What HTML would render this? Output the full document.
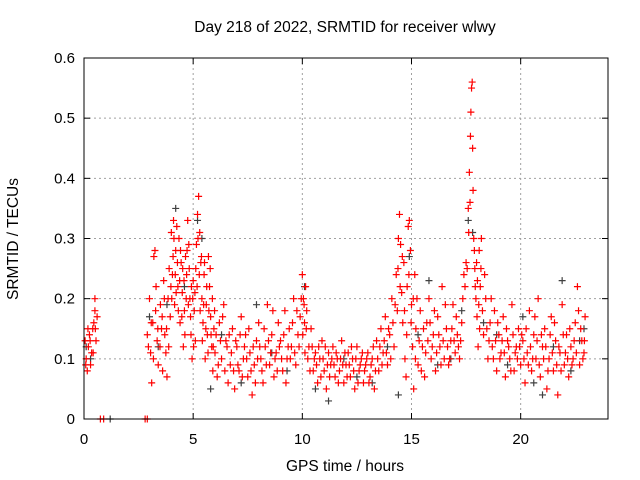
<!DOCTYPE html>
<html><head><meta charset="utf-8"><style>
body{margin:0;background:#fff}
svg{display:block;font-family:"Liberation Sans",sans-serif}
</style></head><body>
<svg id="chart" width="640" height="480" viewBox="0 0 640 480">
<rect width="640" height="480" fill="#fff"/>
<text x="345" y="32" font-size="15.5" text-anchor="middle">Day 218 of 2022, SRMTID for receiver wlwy</text>
<text x="345" y="471" font-size="15.5" text-anchor="middle">GPS time / hours</text>
<text transform="translate(18,239) rotate(-90)" font-size="15.5" text-anchor="middle">SRMTID / TECUs</text>
<g id="grid"></g>
<g id="ticks"></g>
<g id="gray"></g>
<g id="red"></g>
<rect x="84" y="58" width="524" height="361" fill="none" stroke="#000" stroke-width="1"/>
</svg>
<script>
const xTicks=[0,5,10,15,20];
const yTicks=[0,0.1,0.2,0.3,0.4,0.5,0.6];
const yTickLabels=["0","0.1","0.2","0.3","0.4","0.5","0.6"];
const grayPoints=[[0.1,0.12],[0.3,0.1],[1.2,0],[3.0,0.17],[3.4,0.12],[3.8,0.19],[4.2,0.35],[4.6,0.22],[5.2,0.33],[5.4,0.3],[5.8,0.05],[6.3,0.14],[7.2,0.06],[7.9,0.19],[8.6,0.11],[9.3,0.08],[10.1,0.22],[10.6,0.05],[11.2,0.03],[11.9,0.1],[12.5,0.07],[13.2,0.06],[13.9,0.12],[14.4,0.04],[14.9,0.27],[15.3,0.14],[15.8,0.23],[16.2,0.09],[16.8,0.1],[17.3,0.18],[17.6,0.33],[17.8,0.31],[18.3,0.16],[18.9,0.14],[19.4,0.09],[20.1,0.17],[20.6,0.06],[21.0,0.04],[21.5,0.12],[21.9,0.23],[22.3,0.08],[22.7,0.13],[22.9,0.15]];
const redPoints=[
[0.05,0.13],[0.1,0.1],[0.15,0.08],[0.2,0.12],[0.25,0.14],[0.3,0.09],[0.35,0.11],[0.4,0.15],[0.45,0.16],[0.5,0.18],[0.5,0.2],[0.55,0.13],[0.75,0],[0.9,0],[2.8,0],[2.9,0],
[2.9,0.14],[3.0,0.2],[3.05,0.11],[3.1,0.06],[3.15,0.16],[3.2,0.27],[3.25,0.28],[3.3,0.22],[3.35,0.13],[3.4,0.09],[3.5,0.19],[3.55,0.15],[3.6,0.08],[3.65,0.23],[3.7,0.14],[3.75,0.11],[3.8,0.07],[3.85,0.2],[3.9,0.25],[3.95,0.17],
[4.0,0.31],[4.05,0.24],[4.1,0.33],[4.15,0.19],[4.2,0.28],[4.25,0.32],[4.3,0.22],[4.35,0.3],[4.4,0.16],[4.45,0.26],[4.5,0.21],[4.55,0.12],[4.6,0.18],[4.65,0.27],[4.7,0.24],[4.75,0.33],[4.8,0.29],[4.85,0.2],[4.9,0.14],[4.95,0.1],
[5.0,0.23],[5.05,0.18],[5.1,0.13],[5.15,0.29],[5.2,0.34],[5.25,0.37],[5.3,0.31],[5.35,0.26],[5.4,0.2],[5.45,0.16],[5.5,0.24],[5.55,0.1],[5.6,0.19],[5.65,0.14],[5.7,0.27],[5.75,0.22],[5.8,0.17],[5.85,0.12],[5.9,0.08],[5.95,0.15],
[6.0,0.11],[6.1,0.07],[6.2,0.16],[6.3,0.1],[6.4,0.19],[6.5,0.13],[6.6,0.06],[6.7,0.09],[6.8,0.15],[6.9,0.05],[7.0,0.12],[7.1,0.08],[7.2,0.17],[7.3,0.1],[7.4,0.14],[7.5,0.07],[7.6,0.11],[7.7,0.04],[7.8,0.09],[7.9,0.13],
[8.0,0.16],[8.1,0.1],[8.2,0.06],[8.3,0.12],[8.4,0.19],[8.5,0.09],[8.6,0.14],[8.7,0.07],[8.8,0.11],[8.9,0.16],[9.0,0.13],[9.1,0.08],[9.2,0.18],[9.3,0.1],[9.4,0.15],[9.5,0.12],[9.6,0.2],[9.7,0.09],[9.8,0.14],[9.9,0.17],
[10.0,0.24],[10.05,0.2],[10.1,0.16],[10.15,0.22],[10.2,0.18],[10.3,0.12],[10.4,0.15],[10.5,0.08],[10.6,0.11],[10.7,0.06],[10.8,0.1],[10.9,0.13],[11.0,0.08],[11.1,0.05],[11.2,0.11],[11.3,0.09],[11.4,0.12],[11.5,0.07],[11.6,0.1],[11.7,0.08],
[11.8,0.13],[11.9,0.06],[12.0,0.09],[12.1,0.11],[12.2,0.07],[12.3,0.1],[12.4,0.05],[12.5,0.12],[12.6,0.08],[12.7,0.1],[12.8,0.06],[12.9,0.09],[13.0,0.11],[13.1,0.07],[13.2,0.1],[13.3,0.05],[13.4,0.13],[13.5,0.08],[13.6,0.15],[13.7,0.11],
[13.8,0.17],[13.9,0.09],[14.0,0.14],[14.1,0.2],[14.2,0.12],[14.3,0.24],[14.35,0.18],[14.4,0.3],[14.45,0.34],[14.5,0.29],[14.55,0.21],[14.6,0.16],[14.65,0.26],[14.7,0.1],[14.75,0.07],[14.8,0.22],[14.85,0.32],[14.9,0.33],[14.95,0.28],[15.0,0.19],
[15.05,0.12],[15.1,0.05],[15.15,0.24],[15.2,0.15],[15.3,0.09],[15.4,0.18],[15.5,0.12],[15.6,0.07],[15.7,0.16],[15.8,0.2],[15.9,0.1],[16.0,0.14],[16.1,0.08],[16.2,0.17],[16.3,0.12],[16.4,0.22],[16.5,0.1],[16.6,0.15],[16.7,0.09],[16.8,0.13],
[16.9,0.19],[17.0,0.11],[17.1,0.14],[17.2,0.1],[17.3,0.16],[17.4,0.24],[17.5,0.26],[17.6,0.35],[17.65,0.41],[17.7,0.47],[17.72,0.51],[17.75,0.55],[17.78,0.56],[17.8,0.45],[17.82,0.38],[17.85,0.3],[17.9,0.25],[17.95,0.2],[18.0,0.17],[18.05,0.12],
[18.1,0.28],[18.15,0.22],[18.2,0.3],[18.3,0.14],[18.4,0.2],[18.5,0.1],[18.6,0.16],[18.7,0.12],[18.8,0.18],[18.9,0.08],[19.0,0.14],[19.1,0.11],[19.2,0.17],[19.3,0.07],[19.4,0.13],[19.5,0.1],[19.6,0.19],[19.7,0.08],[19.8,0.12],[19.9,0.15],
[20.0,0.09],[20.1,0.13],[20.2,0.06],[20.3,0.11],[20.4,0.18],[20.5,0.08],[20.6,0.14],[20.7,0.1],[20.8,0.2],[20.9,0.07],[21.0,0.12],[21.1,0.15],[21.2,0.05],[21.3,0.1],[21.4,0.17],[21.5,0.08],[21.6,0.13],[21.7,0.04],[21.8,0.11],[21.9,0.19],
[22.0,0.09],[22.1,0.14],[22.2,0.07],[22.3,0.12],[22.4,0.1],[22.5,0.16],[22.6,0.22],[22.7,0.09],[22.8,0.13],[22.9,0.11],[22.95,0.17]];
const redPoints2=[
[0.08,0.09],[0.18,0.15],[0.28,0.13],[0.42,0.11],[0.52,0.15],[0.6,0.17],
[2.95,0.12],[3.08,0.16],[3.18,0.1],[3.28,0.18],[3.38,0.15],[3.48,0.12],[3.58,0.17],[3.68,0.2],[3.78,0.15],[3.88,0.12],[3.98,0.22],
[4.02,0.2],[4.08,0.27],[4.12,0.3],[4.18,0.24],[4.22,0.21],[4.28,0.26],[4.32,0.18],[4.38,0.23],[4.42,0.28],[4.48,0.17],[4.52,0.25],[4.58,0.23],[4.62,0.14],[4.68,0.2],[4.72,0.28],[4.78,0.19],[4.82,0.25],[4.88,0.17],[4.92,0.22],[4.98,0.2],
[5.02,0.12],[5.08,0.21],[5.12,0.25],[5.18,0.22],[5.22,0.3],[5.28,0.24],[5.32,0.18],[5.38,0.27],[5.42,0.13],[5.48,0.19],[5.52,0.26],[5.58,0.15],[5.62,0.22],[5.68,0.11],[5.72,0.18],[5.78,0.25],[5.82,0.14],[5.88,0.2],[5.92,0.12],[5.98,0.18],
[6.05,0.14],[6.15,0.09],[6.25,0.13],[6.35,0.17],[6.45,0.08],[6.55,0.12],[6.65,0.14],[6.75,0.11],[6.85,0.08],[6.95,0.13],[7.05,0.09],[7.15,0.14],[7.25,0.07],[7.35,0.12],[7.45,0.1],[7.55,0.15],[7.65,0.08],[7.75,0.12],[7.85,0.06],[7.95,0.1],
[8.05,0.12],[8.15,0.08],[8.25,0.15],[8.35,0.09],[8.45,0.13],[8.55,0.11],[8.65,0.18],[8.75,0.1],[8.85,0.08],[8.95,0.12],[9.05,0.1],[9.15,0.14],[9.25,0.06],[9.35,0.12],[9.45,0.1],[9.55,0.16],[9.65,0.11],[9.75,0.18],[9.85,0.12],[9.95,0.2],
[10.02,0.14],[10.08,0.19],[10.12,0.11],[10.18,0.15],[10.25,0.1],[10.35,0.08],[10.45,0.12],[10.55,0.1],[10.65,0.09],[10.75,0.12],[10.85,0.07],[10.95,0.1],[11.05,0.12],[11.15,0.09],[11.25,0.07],[11.35,0.1],[11.45,0.09],[11.55,0.11],[11.65,0.06],[11.75,0.1],
[11.85,0.09],[11.95,0.11],[12.05,0.07],[12.15,0.09],[12.25,0.12],[12.35,0.08],[12.45,0.1],[12.55,0.06],[12.65,0.09],[12.75,0.11],[12.85,0.08],[12.95,0.1],[13.05,0.06],[13.15,0.09],[13.25,0.12],[13.35,0.08],[13.45,0.1],[13.55,0.12],[13.65,0.09],[13.75,0.13],
[13.85,0.11],[13.95,0.15],[14.05,0.1],[14.15,0.16],[14.25,0.19],[14.38,0.25],[14.48,0.22],[14.58,0.27],[14.68,0.18],[14.78,0.14],[14.88,0.24],[14.98,0.16],[15.08,0.2],[15.18,0.1],[15.25,0.2],[15.35,0.13],[15.45,0.08],[15.55,0.15],[15.65,0.11],[15.75,0.13],
[15.85,0.16],[15.95,0.12],[16.05,0.18],[16.15,0.11],[16.25,0.14],[16.35,0.09],[16.45,0.13],[16.55,0.19],[16.65,0.12],[16.75,0.1],[16.85,0.15],[16.95,0.13],[17.05,0.17],[17.15,0.12],[17.25,0.13],[17.35,0.2],[17.45,0.22],[17.55,0.25],[17.62,0.31],[17.68,0.36],
[17.88,0.28],[17.92,0.22],[17.98,0.26],[18.02,0.23],[18.08,0.19],[18.12,0.15],[18.18,0.25],[18.25,0.18],[18.35,0.24],[18.45,0.15],[18.55,0.13],[18.65,0.2],[18.75,0.1],[18.85,0.13],[18.95,0.16],[19.05,0.1],[19.15,0.13],[19.25,0.11],[19.35,0.15],[19.45,0.12],
[19.55,0.08],[19.65,0.14],[19.75,0.11],[19.85,0.1],[19.95,0.12],[20.05,0.14],[20.15,0.1],[20.25,0.15],[20.35,0.09],[20.45,0.12],[20.55,0.1],[20.65,0.17],[20.75,0.13],[20.85,0.09],[20.95,0.14],[21.05,0.1],[21.15,0.12],[21.25,0.08],[21.35,0.14],[21.45,0.11],
[21.55,0.16],[21.65,0.09],[21.75,0.12],[21.85,0.08],[21.95,0.14],[22.05,0.11],[22.15,0.1],[22.25,0.15],[22.35,0.09],[22.45,0.13],[22.55,0.11],[22.65,0.18],[22.75,0.15],[22.85,0.1],[22.92,0.13]];
const X0=84,X1=608,Y0=419,Y1=58,XMAX=24,YMAX=0.6;
const xs=t=>X0+(X1-X0)*t/XMAX;
const ys=v=>Y0-(Y0-Y1)*v/YMAX;
const NS="http://www.w3.org/2000/svg";
function mk(tag,attrs,parent){const e=document.createElementNS(NS,tag);for(const k in attrs)e.setAttribute(k,attrs[k]);parent.appendChild(e);return e;}
const grid=document.getElementById('grid'),ticks=document.getElementById('ticks');
xTicks.forEach(t=>{const x=xs(t);
 if(t>0){const g=mk('line',{x1:x,x2:x,y1:Y1,y2:Y0,stroke:'#a0a0a0','stroke-dasharray':'2,3'},grid);
 
 }
 mk('line',{x1:x,x2:x,y1:Y0,y2:Y0-6,stroke:'#000'},ticks);mk('line',{x1:x,x2:x,y1:Y1,y2:Y1+6,stroke:'#000'},ticks);
 const l=mk('text',{x:x,y:Y0+25,'font-size':15,'text-anchor':'middle'},ticks);l.textContent=t;
 
 });
yTicks.forEach((v,i)=>{const y=ys(v);
 if(v>0&&v<YMAX){const g=mk('line',{x1:X0,x2:X1,y1:y,y2:y,stroke:'#a0a0a0','stroke-dasharray':'2,3'},grid);
 
 }
 mk('line',{x1:X0,x2:X0+6,y1:y,y2:y,stroke:'#000'},ticks);mk('line',{x1:X1,x2:X1-6,y1:y,y2:y,stroke:'#000'},ticks);
 const l=mk('text',{x:X0-9,y:y+5,'font-size':15,'text-anchor':'end'},ticks);l.textContent=yTickLabels[i];
 
 });
function plus(g,pts,color,name){pts.forEach(p=>{const x=xs(p[0]),y=ys(p[1]);
 const e=mk('path',{d:`M${x-3.5},${y}H${x+3.5}M${x},${y-3.5}V${y+3.5}`,stroke:color,'stroke-width':1.2,fill:'none'},g);
 
 });}
plus(document.getElementById('gray'),grayPoints,'#404040','gray-point');
plus(document.getElementById('red'),redPoints,'#ff0000','red-point');
plus(document.getElementById('red'),redPoints2,'#ff0000','red-point');
</script>
</body></html>
